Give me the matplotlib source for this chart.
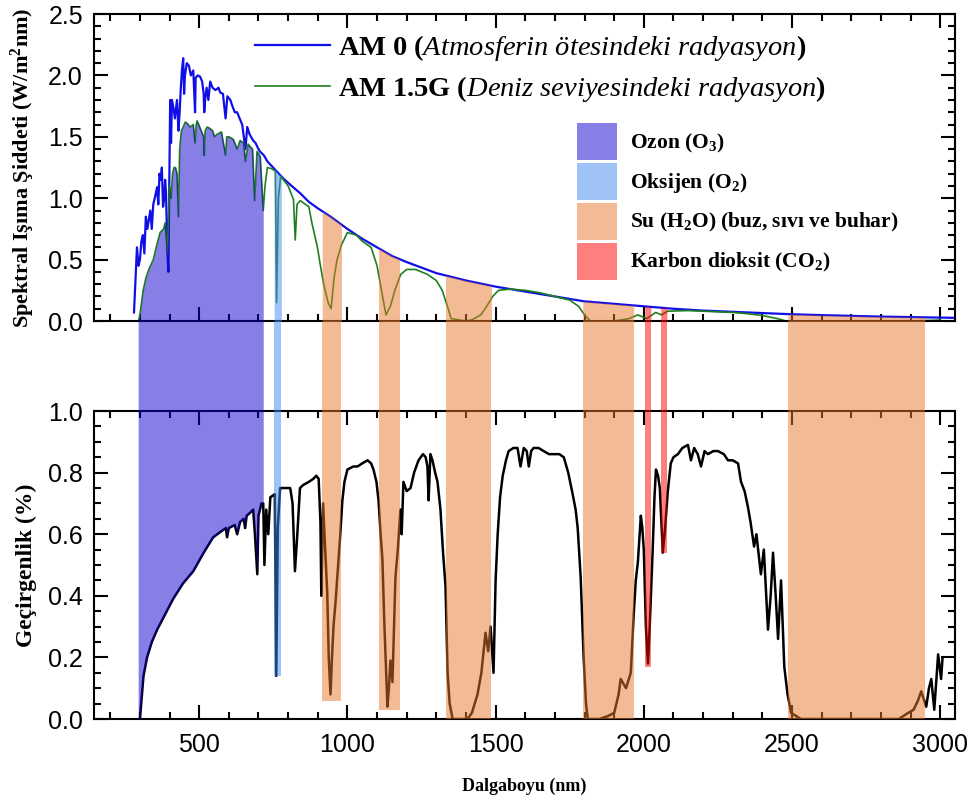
import numpy as np
import matplotlib
matplotlib.use('Agg')
import matplotlib.pyplot as plt
from matplotlib.patches import Patch
from matplotlib.ticker import MultipleLocator

plt.rcParams['font.family'] = 'Liberation Sans'
plt.rcParams['mathtext.fontset'] = 'custom'
plt.rcParams['mathtext.rm'] = 'Liberation Serif'
plt.rcParams['mathtext.it'] = 'Liberation Serif:italic'
plt.rcParams['mathtext.bf'] = 'Liberation Serif:bold'

# AM 0 spectrum (W/m2nm)
wl_am0 = np.array([280, 290, 295, 300, 305, 310, 315, 320, 325, 335,
                   340, 345, 350, 358, 362, 366, 370, 374, 378, 382,
                   385, 388, 392, 396, 402, 405, 408, 412, 418, 425,
                   430, 434, 438, 442, 446, 449, 452, 458, 465, 472,
                   480, 486, 488, 495, 503, 510, 515, 517, 520, 525,
                   531, 537, 545, 555, 565, 571, 580, 589, 595, 605,
                   612, 620, 628, 638, 645, 656, 662, 670, 682, 690,
                   700, 705, 718, 730, 757, 784, 812, 841, 870, 899,
                   943, 1000, 1050, 1100, 1150, 1200, 1300, 1400, 1500, 1600,
                   1700, 1800, 1900, 2000, 2100, 2200, 2300, 2400, 2500, 2600,
                   2700, 2800, 2900, 3000, 3050])
am0 = np.array([0.07, 0.6, 0.45, 0.5, 0.65, 0.7, 0.55, 0.85, 0.75, 0.9,
                0.75, 0.95, 1.0, 1.09, 0.95, 1.2, 1.15, 1.25, 0.93, 1.0,
                1.15, 1.05, 0.6, 0.4, 1.8, 1.45, 1.8, 1.75, 1.65, 1.8,
                1.55, 1.7, 1.9, 2.05, 2.14, 1.85, 2.0, 2.1, 2.08, 2.0,
                2.04, 1.7, 1.98, 2.0, 1.99, 1.95, 1.85, 1.7, 1.8, 1.9,
                1.8, 1.95, 1.9, 1.88, 1.9, 1.86, 1.85, 1.65, 1.83, 1.8,
                1.75, 1.7, 1.7, 1.64, 1.6, 1.4, 1.58, 1.52, 1.47, 1.45,
                1.4, 1.38, 1.35, 1.3, 1.23, 1.16, 1.1, 1.04, 0.97, 0.92,
                0.85, 0.75, 0.67, 0.6, 0.53, 0.48, 0.39, 0.33, 0.28, 0.24,
                0.2, 0.16, 0.14, 0.12, 0.1, 0.085, 0.075, 0.065, 0.055, 0.048,
                0.042, 0.036, 0.032, 0.028, 0.026])

# AM 1.5G spectrum
wl_am15 = np.array([295, 300, 311, 320, 330, 345, 355, 368, 380, 385,
                    393, 400, 405, 410, 415, 420, 425, 430, 434, 440,
                    446, 453, 459, 470, 480, 486, 490, 493, 505, 515,
                    517, 520, 527, 535, 545, 552, 560, 575, 589, 593,
                    600, 615, 628, 638, 650, 656, 665, 672, 680, 687,
                    695, 706, 716, 722, 730, 745, 757, 761, 767, 775,
                    784, 800, 818, 824, 830, 841, 870, 880, 899, 909,
                    920, 935, 945, 955, 965, 980, 1000, 1030, 1050, 1080,
                    1100, 1115, 1130, 1145, 1160, 1180, 1200, 1230, 1250, 1270,
                    1300, 1320, 1340, 1350, 1400, 1420, 1450, 1470, 1490, 1510,
                    1550, 1600, 1650, 1700, 1750, 1780, 1800, 1820, 1900, 1950,
                    1980, 2010, 2040, 2060, 2080, 2150, 2200, 2300, 2350, 2400,
                    2450, 2480, 2900, 2950, 3000])
am15 = np.array([0.0, 0.05, 0.25, 0.35, 0.42, 0.5, 0.6, 0.72, 0.75, 0.8,
                 0.55, 1.1, 1.0, 1.2, 1.25, 1.25, 1.2, 0.85, 1.4, 1.55,
                 1.58, 1.62, 1.61, 1.58, 1.6, 1.45, 1.6, 1.63, 1.56, 1.5,
                 1.35, 1.55, 1.58, 1.57, 1.55, 1.5, 1.52, 1.54, 1.35, 1.5,
                 1.5, 1.48, 1.4, 1.47, 1.45, 1.3, 1.44, 1.42, 1.4, 0.98,
                 1.38, 1.34, 0.9, 1.1, 1.25, 1.24, 1.22, 0.15, 1.0, 1.18,
                 1.15, 1.1, 0.99, 0.66, 0.95, 0.98, 0.93, 0.8, 0.6, 0.45,
                 0.3, 0.15, 0.1, 0.35, 0.5, 0.62, 0.72, 0.7, 0.65, 0.6,
                 0.45, 0.25, 0.05, 0.12, 0.25, 0.38, 0.42, 0.42, 0.4, 0.38,
                 0.33, 0.25, 0.1, 0.02, 0.0, 0.01, 0.05, 0.12, 0.2, 0.25,
                 0.26, 0.25, 0.23, 0.2, 0.17, 0.12, 0.05, 0.0, 0.0, 0.02,
                 0.05, 0.02, 0.07, 0.05, 0.08, 0.085, 0.08, 0.07, 0.06, 0.045,
                 0.02, 0.0, 0.0, 0.004, 0.008])

# atmospheric transmittance
wl_t = np.array([300, 305, 312, 324, 340, 358, 385, 412, 445, 480, 515, 547, 575, 590, 594, 600, 620,
                 628, 638, 650, 655, 660, 672, 682, 688, 696, 700, 710, 716, 720, 726, 733, 740, 755,
                 760, 765, 773, 790, 807, 815, 823, 831, 840, 851, 870, 885, 895, 903, 909, 912, 918,
                 925, 932, 937, 943, 948, 953, 960, 970, 976, 983, 990, 1000, 1020, 1034, 1050, 1068,
                 1080, 1088, 1098, 1105, 1112, 1118, 1125, 1135, 1140, 1145, 1152, 1162, 1170, 1179,
                 1183, 1189, 1200, 1213, 1225, 1240, 1255, 1264, 1270, 1274, 1280, 1287, 1296, 1304,
                 1314, 1322, 1331, 1338, 1345, 1355, 1380, 1405, 1420, 1439, 1452, 1466, 1475, 1483,
                 1493, 1500, 1507, 1515, 1524, 1535, 1544, 1560, 1574, 1584, 1595, 1605, 1612, 1620,
                 1628, 1645, 1662, 1680, 1696, 1715, 1730, 1745, 1760, 1770, 1777, 1787, 1797, 1805,
                 1811, 1850, 1880, 1900, 1915, 1922, 1940, 1956, 1966, 1973, 1980, 1990, 1995, 2000,
                 2007, 2014, 2020, 2030, 2036, 2041, 2048, 2054, 2064, 2072, 2081, 2091, 2100, 2115,
                 2130, 2149, 2159, 2170, 2182, 2193, 2205, 2216, 2235, 2250, 2270, 2284, 2300, 2318,
                 2328, 2340, 2351, 2360, 2372, 2380, 2395, 2405, 2419, 2428, 2436, 2445, 2453, 2463,
                 2474, 2485, 2497, 2530, 2700, 2860, 2892, 2910, 2925, 2936, 2953, 2962, 2970, 2980,
                 2993, 3003, 3008])
trans = np.array([0.0, 0.06, 0.14, 0.2, 0.25, 0.29, 0.34, 0.39, 0.44, 0.48, 0.54, 0.59, 0.61, 0.62, 0.59,
                  0.62, 0.63, 0.6, 0.64, 0.65, 0.62, 0.66, 0.67, 0.68, 0.6, 0.47, 0.66, 0.7, 0.7, 0.5,
                  0.68, 0.6, 0.72, 0.73, 0.14, 0.62, 0.75, 0.75, 0.75, 0.7, 0.48, 0.6, 0.75, 0.76, 0.77,
                  0.78, 0.79, 0.78, 0.64, 0.4, 0.7, 0.55, 0.41, 0.2, 0.08, 0.2, 0.3, 0.38, 0.52, 0.6,
                  0.71, 0.77, 0.81, 0.82, 0.82, 0.83, 0.84, 0.83, 0.81, 0.77, 0.71, 0.6, 0.52, 0.3,
                  0.04, 0.1, 0.19, 0.12, 0.46, 0.55, 0.68, 0.6, 0.77, 0.74, 0.75, 0.8, 0.84, 0.86,
                  0.85, 0.82, 0.71, 0.86, 0.84, 0.8, 0.77, 0.68, 0.55, 0.43, 0.15, 0.05, 0.0, 0.0,
                  0.0, 0.02, 0.08, 0.15, 0.28, 0.22, 0.3, 0.15, 0.45, 0.6, 0.72, 0.79, 0.84, 0.87,
                  0.88, 0.88, 0.82, 0.88, 0.87, 0.82, 0.87, 0.88, 0.88, 0.87, 0.86, 0.86, 0.86, 0.85,
                  0.8, 0.73, 0.68, 0.62, 0.46, 0.2, 0.05, 0.0, 0.0, 0.01, 0.02, 0.08, 0.13, 0.1, 0.15,
                  0.34, 0.45, 0.51, 0.66, 0.62, 0.55, 0.3, 0.18, 0.3, 0.55, 0.72, 0.81, 0.79, 0.75,
                  0.54, 0.62, 0.74, 0.83, 0.85, 0.86, 0.88, 0.89, 0.84, 0.88, 0.86, 0.82, 0.87, 0.86,
                  0.87, 0.87, 0.86, 0.84, 0.84, 0.83, 0.77, 0.74, 0.69, 0.64, 0.56, 0.6, 0.47, 0.55,
                  0.29, 0.4, 0.54, 0.4, 0.26, 0.45, 0.17, 0.08, 0.02, 0.0, 0.0, 0.0, 0.02, 0.03, 0.06,
                  0.09, 0.04, 0.1, 0.13, 0.03, 0.21, 0.13, 0.2])

# absorption bands (nm) and the lowest transmittance each one reaches
ozone_range = (294, 716)
oxygen_ranges = [(753, 777)]
oxygen_bottoms = [0.14]
water_ranges = [(915, 980), (1105, 1176), (1331, 1486), (1794, 1966), (2486, 2949)]
water_bottoms = [0.06, 0.03, 0.0, 0.0, 0.0]
co2_ranges = [(2003, 2024), (2057, 2078)]
co2_bottoms = [0.17, 0.54]

band_labels = ['Ozon (O$_{\\mathbf{3}}$)', 'Oksijen (O$_{\\mathbf{2}}$)',
               'Su (H$_{\\mathbf{2}}$O) (buz, sıvı ve buhar)', 'Karbon dioksit (CO$_{\\mathbf{2}}$)']
band_colors = ['#1100cd', '#4189f1', '#e9792d', '#ff0101']

serif_bold = dict(family='Liberation Serif', weight='bold')

fig = plt.figure(figsize=(9.77, 8.05), dpi=100)
ax1 = fig.add_axes([0.0962, 0.6012, 0.8813, 0.3814])
ax2 = fig.add_axes([0.0962, 0.1068, 0.8813, 0.3826])

l0, = ax1.plot(wl_am0, am0, color='#1010e6', lw=1.6, zorder=2)
l15, = ax1.plot(wl_am15, am15, color='#1f7f1f', lw=1.2, zorder=2)
ax2.plot(wl_t, trans, color='black', lw=1.8, zorder=2)

for ax in (ax1, ax2):
    ax.set_xlim(145, 3050)
    ax.xaxis.set_major_locator(MultipleLocator(500))
    ax.xaxis.set_minor_locator(MultipleLocator(100))
    ax.tick_params(which='both', direction='in', top=True, right=True, width=1.5, labelsize=18)
    ax.tick_params(which='major', length=10, pad=8)
    ax.tick_params(which='minor', length=5)
    for s in ax.spines.values():
        s.set_linewidth(1.5)
ax1.set_ylim(0, 2.5)
ax1.yaxis.set_major_locator(MultipleLocator(0.5))
ax1.yaxis.set_minor_locator(MultipleLocator(0.1))
ax1.tick_params(axis='x', labelbottom=False)
ax2.set_ylim(0, 1.0)
ax2.yaxis.set_major_locator(MultipleLocator(0.2))
ax2.yaxis.set_minor_locator(MultipleLocator(0.05))
ax2.tick_params(axis='x', pad=10)

# height of the top panel's zero line in the lower panel's data units
gap_top = ax2.transData.inverted().transform(ax1.transData.transform((0, 0)))[1]


def band_xy(lo, hi, wl, vals):
    xs = np.concatenate([[lo], wl[(wl > lo) & (wl < hi)], [hi]])
    return xs, np.interp(xs, wl, vals)


# ozone: under the AM 1.5G curve on top, above the transmittance curve below
xs, ys = band_xy(ozone_range[0], ozone_range[1], wl_am15, am15)
ax1.fill_between(xs, 0, ys, color=band_colors[0], alpha=0.5, lw=0, zorder=3)
xs, ys = band_xy(ozone_range[0], ozone_range[1], wl_t, trans)
ax2.fill_between(xs, ys, gap_top, color=band_colors[0], alpha=0.5, lw=0, zorder=3, clip_on=False)

for ranges, bottoms, color in [(oxygen_ranges, oxygen_bottoms, band_colors[1]),
                               (water_ranges, water_bottoms, band_colors[2]),
                               (co2_ranges, co2_bottoms, band_colors[3])]:
    for (lo, hi), b in zip(ranges, bottoms):
        xs, ys = band_xy(lo, hi, wl_am0, am0)
        ax1.fill_between(xs, 0, ys, color=color, alpha=0.5, lw=0, zorder=3)
        ax2.fill_between([lo, hi], b, gap_top, color=color, alpha=0.5, lw=0, zorder=3, clip_on=False)

ax1.set_ylabel('Spektral Işıma Şiddeti (W/m$^{\\mathbf{2}}$nm)', fontsize=16, **serif_bold)
ax1.yaxis.set_label_coords(-0.066, 0.5)
ax2.set_ylabel('Geçirgenlik (%)', fontsize=17, **serif_bold)
ax2.yaxis.set_label_coords(-0.066, 0.5)
ax2.set_xlabel('Dalgaboyu (nm)', fontsize=13, **serif_bold)
ax2.xaxis.set_label_coords(0.5, -0.19)

fig.legend([l0, l15],
           [r'$\mathbf{AM\ 0\ (}\mathit{Atmosferin\ ötesindeki\ radyasyon}\mathbf{)}$',
            r'$\mathbf{AM\ 1.5G\ (}\mathit{Deniz\ seviyesindeki\ radyasyon}\mathbf{)}$'],
           loc='upper left', bbox_to_anchor=(255 / 977, 1 - 33 / 805), frameon=False,
           borderpad=0, borderaxespad=0, fontsize=20.5, handlelength=2.65, handletextpad=0.25,
           labelspacing=0.38)

patches = [Patch(facecolor=c, alpha=0.5, lw=0) for c in band_colors]
fig.legend(patches, band_labels, loc='upper left', bbox_to_anchor=(577 / 977, 1 - 123 / 805),
           frameon=False, borderpad=0, borderaxespad=0, handlelength=1.86, handleheight=2.26,
           handletextpad=0.6, labelspacing=0.14, prop=dict(size=15.5, **serif_bold))

fig.savefig('out.png', dpi=100)
